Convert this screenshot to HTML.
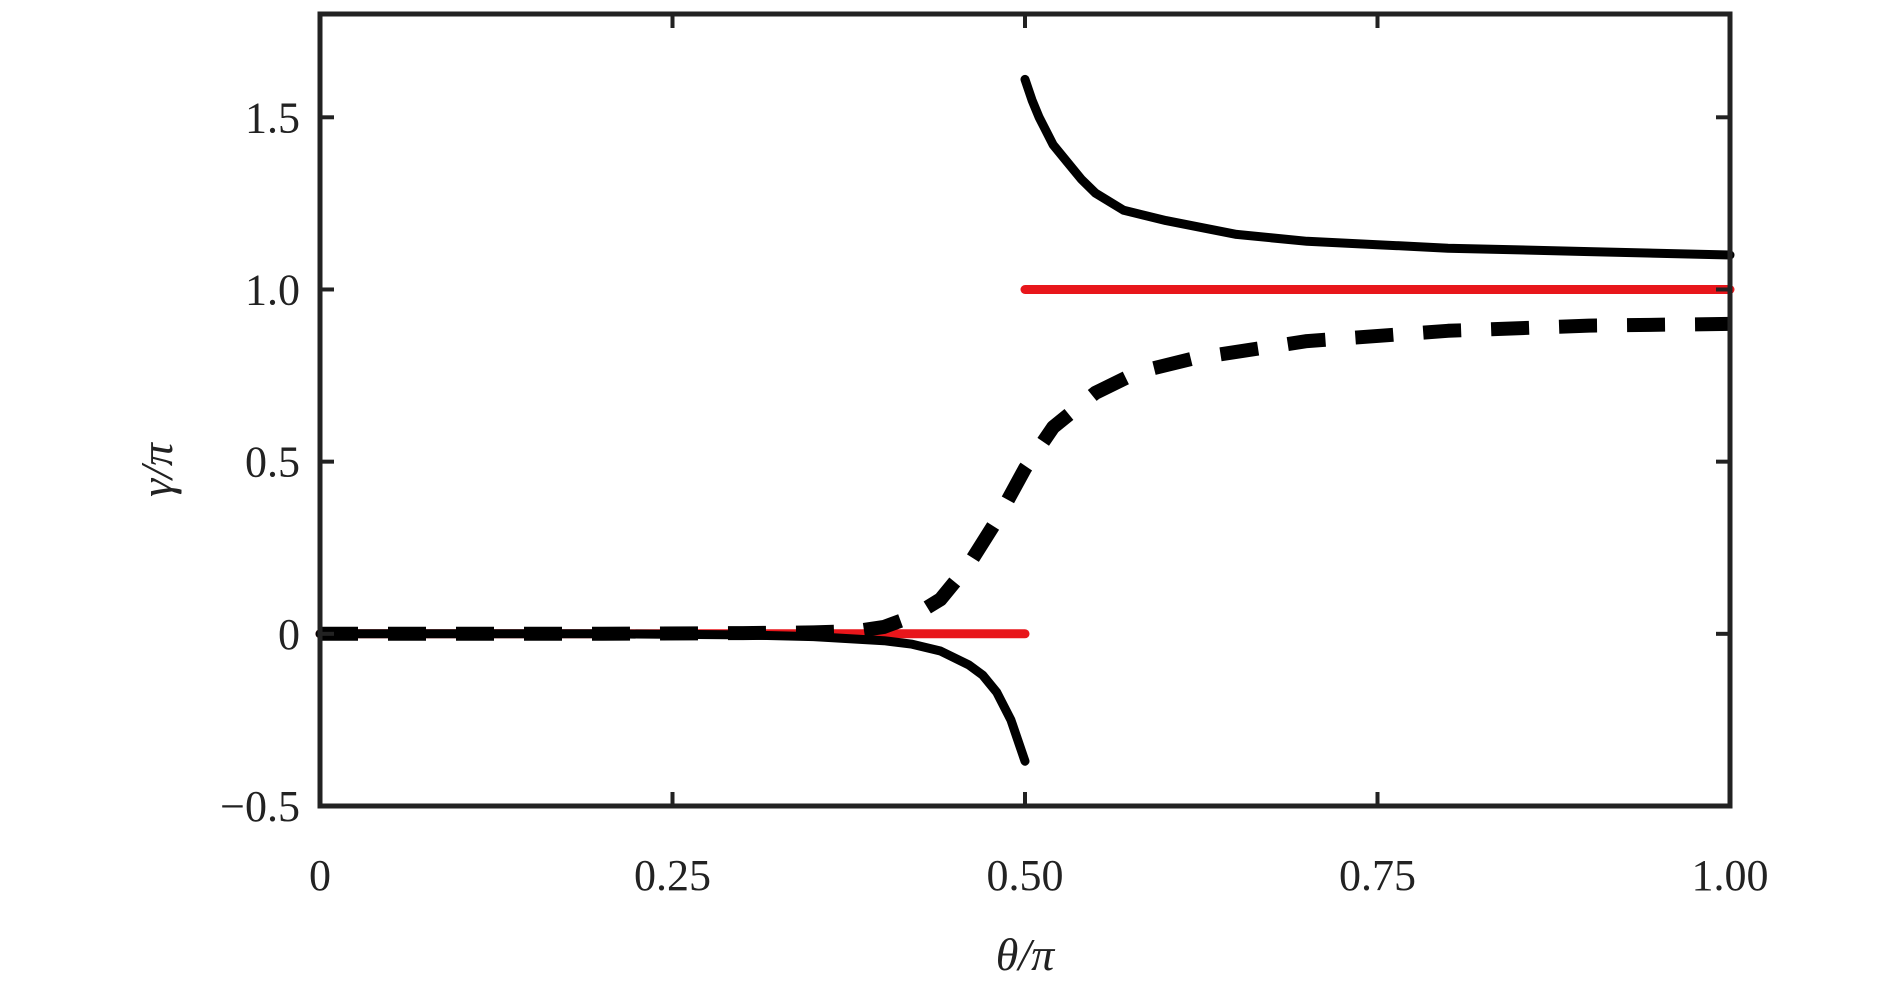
<!DOCTYPE html>
<html><head><meta charset="utf-8"><style>
html,body{margin:0;padding:0;background:#fff}
svg{display:block}
text{font-family:"Liberation Serif","DejaVu Serif",serif;fill:#222}
</style></head><body>
<svg id="chart" width="1890" height="993" viewBox="0 0 1890 993" xmlns="http://www.w3.org/2000/svg">
<g id="marks"></g>
<rect x="320" y="14" width="1410" height="792" fill="none" stroke="#222" stroke-width="5"/>
<g id="ticks"></g>
<text x="1025" y="970" font-size="46" text-anchor="middle" font-style="italic">θ/π</text>
<text x="0" y="0" font-size="46" text-anchor="middle" font-style="italic" transform="translate(172,470) rotate(-90)">γ/π</text>
</svg>
<script>
const xTicks=[0,0.25,0.5,0.75,1.0];
const xTickLabels=["0","0.25","0.50","0.75","1.00"];
const yTicks=[-0.5,0,0.5,1.0,1.5];
const yTickLabels=["−0.5","0","0.5","1.0","1.5"];
const upperX=[0.5,0.505,0.51,0.52,0.53,0.54,0.55,0.57,0.6,0.65,0.7,0.75,0.8,0.9,1.0];
const upperY=[1.61,1.55,1.5,1.42,1.37,1.32,1.28,1.23,1.2,1.16,1.14,1.13,1.12,1.11,1.10];
const lowerX=[0,0.1,0.2,0.3,0.35,0.4,0.42,0.44,0.46,0.47,0.48,0.49,0.5];
const lowerY=[0,0,0,-0.003,-0.008,-0.02,-0.03,-0.05,-0.09,-0.12,-0.17,-0.25,-0.37];
const dashX=[0,0.1,0.2,0.3,0.35,0.38,0.4,0.42,0.44,0.46,0.48,0.5,0.52,0.55,0.58,0.62,0.7,0.8,0.9,1.0];
const dashY=[0,0,0,0.002,0.004,0.008,0.02,0.05,0.1,0.2,0.33,0.48,0.6,0.7,0.76,0.8,0.85,0.88,0.895,0.9];
const redLowX=[0,0.5], redLowY=[0,0];
const redHighX=[0.5,1.0], redHighY=[1,1];
const X=v=>320+v*1410;
const Y=v=>806-(v+0.5)*(792/2.3);
const NS="http://www.w3.org/2000/svg";
const marks=document.getElementById('marks');
function line(xs,ys,name,color,w,dash){
  const p=document.createElementNS(NS,'path');
  
  
  p.setAttribute('d',xs.map((x,i)=>(i?'L':'M')+X(x).toFixed(1)+' '+Y(ys[i]).toFixed(1)).join(' '));
  p.setAttribute('fill','none');p.setAttribute('stroke',color);p.setAttribute('stroke-width',w);
  p.setAttribute('stroke-linejoin','round');
  if(dash){p.setAttribute('stroke-dasharray',dash);}else{p.setAttribute('stroke-linecap','round');}
  marks.appendChild(p);
}
line(redLowX,redLowY,'red-line-low','#e8161b',9);
line(redHighX,redHighY,'red-line-high','#e8161b',9);
line(dashX,dashY,'dashed-curve','#000',14,'38 30');
line(upperX,upperY,'solid-curve-upper','#000',9);
line(lowerX,lowerY,'solid-curve-lower','#000',9);
const tg=document.getElementById('ticks');
xTicks.forEach((v,i)=>{
  [[806,792],[14,28]].forEach(([a,b],k)=>{
    const l=document.createElementNS(NS,'line');
    
    
    l.setAttribute('x1',X(v));l.setAttribute('x2',X(v));l.setAttribute('y1',a);l.setAttribute('y2',b);
    l.setAttribute('stroke','#222');l.setAttribute('stroke-width',4);tg.appendChild(l);
  });
  const t=document.createElementNS(NS,'text');
  
  
  t.setAttribute('x',X(v));t.setAttribute('y',890);t.setAttribute('font-size',44);t.setAttribute('text-anchor','middle');
  t.textContent=xTickLabels[i];tg.appendChild(t);
});
yTicks.forEach((v,i)=>{
  [[320,334],[1730,1716]].forEach(([a,b])=>{
    const l=document.createElementNS(NS,'line');
    
    
    l.setAttribute('x1',a);l.setAttribute('x2',b);l.setAttribute('y1',Y(v));l.setAttribute('y2',Y(v));
    l.setAttribute('stroke','#222');l.setAttribute('stroke-width',4);tg.appendChild(l);
  });
  const t=document.createElementNS(NS,'text');
  
  
  t.setAttribute('x',300);t.setAttribute('y',Y(v)+15);t.setAttribute('font-size',44);t.setAttribute('text-anchor','end');
  t.textContent=yTickLabels[i];tg.appendChild(t);
});
</script>
</body></html>
